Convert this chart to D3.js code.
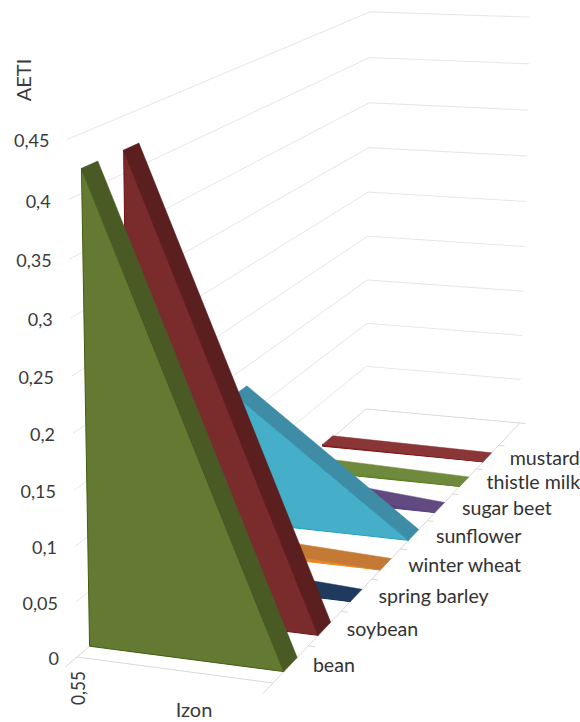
<!DOCTYPE html>
<html lang="en">
<head>
    <meta charset="UTF-8">
    <title>AETI by crop</title>
    <script src="https://d3js.org/d3.v7.min.js"></script>
    <style>
        body { margin: 0; background: white; }
        text { font-family: Lato, sans-serif; font-size: 18px; fill: #3a3a3a; }
        text.category { font-size: 19.6px; fill: #333; }
        .grid { stroke: #e6e6e6; stroke-width: 1; fill: none; }
        .floor { stroke: #d9d9d9; stroke-width: 1; fill: none; }
    </style>
</head>
<body>
<svg height="722" width="580"></svg>

<script>
    const categories = ["bean", "soybean", "spring barley", "winter wheat", "sunflower", "sugar beet", "thistle milk", "mustard"];
    const firstValues = [0.421, 0.4205, 0.01, 0.008, 0.13, 0.015, 0.005, 0.002];  // at Izon 0,55
    const lastValues  = [0, 0, 0, 0, 0, 0, 0, 0];                                 // at the unnamed second Izon point
    const frontColors = ["#647a33", "#7a2c2c", "#1f3a5c", "#e8852a", "#45afc9", "#5b4478", "#6f8a3c", "#8a3434"];
    const topColors   = ["#4a5a24", "#5c1f1f", "#203a5e", "#c47a35", "#3f8ca6", "#604a80", "#6f8a3c", "#8a3636"];
    const edgeColors  = ["#3f5f10", "#6e0f0f", "#10305a", "#f08c20", "#1f9fc4", "#5a3a90", "#4f7a18", "#7a1010"];
    const valueTicks  = [0, 0.05, 0.1, 0.15, 0.2, 0.25, 0.3, 0.35, 0.4, 0.45];
    const izonLabels  = ["0,55", ""];

    const svg = d3.select("svg");

    // the ninth depth slot of the original chart is empty
    const depth = d3.scaleBand()
        .domain(categories.concat(""))
        .range([0, 1]);
    const step = depth.step();
    const bandStart = d => depth(d) + 0.3 * step;
    const bandEnd   = d => depth(d) + 0.68 * step;

    const izon = d3.scalePoint().domain(izonLabels).range([0, 1]);
    const height = d3.scaleLinear().domain([0, 0.45]).range([0, 1]);

    // 3D camera: floor homography from the four floor corners + vertical vanishing point
    const floorCorners = [[77, 657], [273, 683], [520, 423], [366, 409]];
    const verticalVP = [260, 10660];
    const lift = -0.0492;

    function floorHomography([[x0, y0], [x1, y1], [x2, y2], [x3, y3]]) {
        const dx1 = x1 - x2, dy1 = y1 - y2, dx2 = x3 - x2, dy2 = y3 - y2;
        const sx = x0 - x1 + x2 - x3, sy = y0 - y1 + y2 - y3;
        const det = dx1 * dy2 - dx2 * dy1;
        const g = (sx * dy2 - dx2 * sy) / det;
        const h = (dx1 * sy - sx * dy1) / det;
        return {
            a: x1 - x0 + g * x1, b: x3 - x0 + h * x3, c: x0,
            d: y1 - y0 + g * y1, e: y3 - y0 + h * y3, f: y0,
            g, h
        };
    }
    const H = floorHomography(floorCorners);

    function project(u, v, value) {
        const w = height(value) * lift;
        const den = H.g * u + H.h * v + 1 + w;
        return [
            (H.a * u + H.b * v + H.c + w * verticalVP[0]) / den,
            (H.d * u + H.e * v + H.f + w * verticalVP[1]) / den
        ];
    }

    const line = d3.line();

    // walls
    svg.selectAll("path.grid")
       .data(valueTicks.slice(1))
       .join("path").attr("class", "grid")
         .attr("d", d => line([project(0, 0, d), project(0, 1, d), project(1, 1, d)]));

    // floor and its ticks
    svg.append("path").attr("class", "floor")
       .attr("d", line([project(0, 1, 0), project(0, 0, 0), project(1, 0, 0), project(1, 1, 0), project(0, 1, 0)]));

    svg.selectAll("path.izonTick")
       .data(izon.domain())
       .join("path").attr("class", "floor izonTick")
         .attr("d", d => line([project(izon(d), 0, 0), project(izon(d), -0.03, 0)]));

    svg.selectAll("path.depthTick")
       .data(depth.domain())
       .join("path").attr("class", "floor depthTick")
         .attr("d", d => line([project(1, depth(d) + step, 0), project(1.035, depth(d) + step, 0)]));

    // areas, back to front
    const order = d3.range(categories.length).reverse();
    const marks = svg.selectAll("g.area")
       .data(order)
       .join("g").attr("class", "area");

    marks.append("path")
         .attr("d", i => {
             const v = bandStart(categories[i]);
             return line([
                 project(izon("0,55"), v, 0),
                 project(izon("0,55"), v, firstValues[i]),
                 project(izon(""), v, lastValues[i])
             ]) + "Z";
         })
         .style("fill", i => frontColors[i])
         .style("stroke", i => edgeColors[i]);

    marks.append("path")
         .attr("d", i => {
             const v0 = bandStart(categories[i]), v1 = bandEnd(categories[i]);
             return line([
                 project(izon("0,55"), v0, firstValues[i]),
                 project(izon("0,55"), v1, firstValues[i]),
                 project(izon(""), v1, lastValues[i]),
                 project(izon(""), v0, lastValues[i])
             ]) + "Z";
         })
         .style("fill", i => topColors[i])
         .style("stroke", i => topColors[i])
         .style("stroke-width", 0.5);

    // value labels
    svg.selectAll("text.value")
       .data(valueTicks)
       .join("text").attr("class", "value")
         .attr("text-anchor", "end")
         .attr("x", d => project(0, 0, d)[0] - 18)
         .attr("y", d => project(0, 0, d)[1] + 8)
         .text(d => String(d).replace(".", ","));

    svg.selectAll("text.category")
       .data(categories)
       .join("text").attr("class", "category")
         .attr("x", d => project(1, depth(d) + step / 2, 0)[0] + 22)
         .attr("y", d => project(1, depth(d) + step / 2, 0)[1] + 8)
         .text(d => d);

    const base = project(izon("0,55"), 0, 0);
    svg.append("text")
       .attr("transform", `translate(${base[0] + 8},${base[1] + 48}) rotate(-90)`)
       .attr("textLength", 34)
       .attr("lengthAdjust", "spacingAndGlyphs")
       .style("font-size", "19px")
       .text("0,55");

    svg.append("text")
       .attr("text-anchor", "middle")
       .attr("x", 194).attr("y", 717)
       .style("font-size", "20px")
       .text("Izon");

    svg.append("text")
       .attr("text-anchor", "middle")
       .attr("transform", "translate(31,80) rotate(-90)")
       .style("font-size", "20px")
       .text("AETI");
</script>

</body>
</html>
